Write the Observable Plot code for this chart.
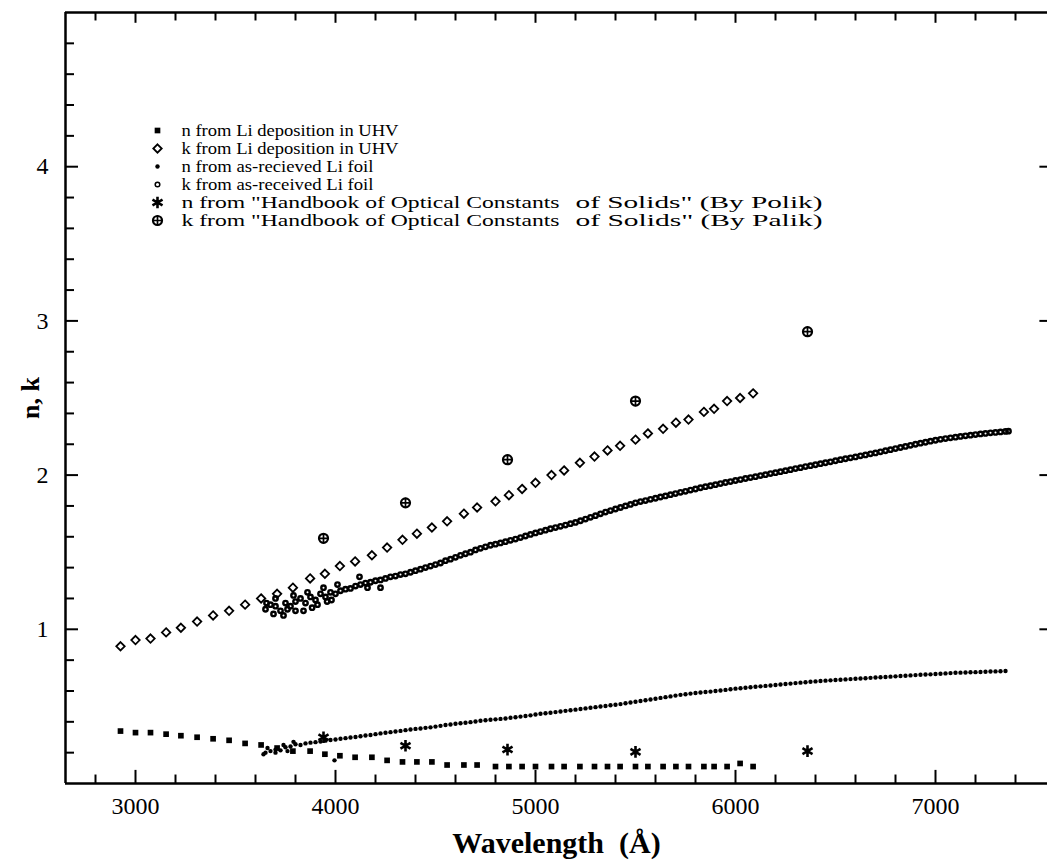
<!DOCTYPE html>
<html>
<head>
<meta charset="utf-8">
<script src="https://cdn.jsdelivr.net/npm/d3@7"></script>
<script src="https://cdn.jsdelivr.net/npm/@observablehq/plot@0.6"></script>
<style>
  html, body { margin: 0; padding: 0; background: #fff; }
  #chart { width: 1047px; height: 860px; }
</style>
</head>
<body>
<div id="chart"></div>
<script>
// ---------- tick values ----------
const xMajorTicks = [3000, 4000, 5000, 6000, 7000];
const xMinorTicks = [2800, 3200, 3400, 3600, 3800, 4200, 4400, 4600, 4800, 5200, 5400, 5600, 5800, 6200, 6400, 6600, 6800, 7200, 7400];
const yMajorTicks = [1, 2, 3, 4];
const yMinorTicks = [0.2, 0.4, 0.6, 0.8, 1.2, 1.4, 1.6, 1.8, 2.2, 2.4, 2.6, 2.8, 3.2, 3.4, 3.6, 3.8, 4.2, 4.4, 4.6, 4.8];

// ---------- legend labels ----------
const legendLabels = [
  "n from Li deposition in UHV",
  "k from Li deposition in UHV",
  "n from as-recieved Li foil",
  "k from as-received Li foil",
  "n from \"Handbook of Optical Constants",
  "k from \"Handbook of Optical Constants"
];
const legendTails = ["of Solids\" (By Polik)", "of Solids\" (By Palik)"];

// ---------- UHV deposition (wavelength Å) ----------
const uhvWavelength = [2925, 3000, 3075, 3153, 3227, 3308, 3388, 3468, 3548, 3628, 3708, 3787, 3873, 3947, 4022, 4098, 4182, 4258, 4335, 4407, 4482, 4558, 4642, 4708, 4800, 4867, 4933, 5000, 5080, 5143, 5222, 5295, 5360, 5423, 5500, 5562, 5638, 5702, 5765, 5842, 5893, 5958, 6023, 6088];
const uhvN = [0.34, 0.33, 0.33, 0.32, 0.31, 0.30, 0.29, 0.28, 0.26, 0.25, 0.23, 0.21, 0.21, 0.19, 0.18, 0.17, 0.17, 0.15, 0.14, 0.14, 0.14, 0.12, 0.12, 0.12, 0.11, 0.11, 0.11, 0.11, 0.11, 0.11, 0.11, 0.11, 0.11, 0.11, 0.11, 0.11, 0.11, 0.11, 0.11, 0.11, 0.11, 0.11, 0.13, 0.11];
const uhvK = [0.89, 0.93, 0.94, 0.98, 1.01, 1.05, 1.09, 1.12, 1.16, 1.20, 1.23, 1.27, 1.33, 1.36, 1.41, 1.44, 1.48, 1.53, 1.58, 1.62, 1.66, 1.70, 1.75, 1.79, 1.83, 1.87, 1.91, 1.95, 2.00, 2.03, 2.08, 2.12, 2.16, 2.19, 2.23, 2.27, 2.30, 2.34, 2.36, 2.41, 2.43, 2.48, 2.50, 2.53];

// ---------- Palik handbook ----------
const palikWavelength = [3940, 4350, 4860, 5500, 6360];
const palikN = [0.30, 0.245, 0.22, 0.205, 0.21];
const palikK = [1.59, 1.82, 2.10, 2.48, 2.93];

// ---------- as-received Li foil: [wavelength, value] ----------
const foilN = [
  [3640,0.19],[3650,0.20],[3660,0.23],[3675,0.21],[3700,0.22],[3700,0.20],[3725,0.215],[3740,0.25],[3750,0.235],[3760,0.21],[3775,0.24],[3790,0.27],[3800,0.255],[3825,0.25],[3850,0.26],[3875,0.265],[3900,0.268],[3925,0.272],[3950,0.278],[3975,0.282],[3995,0.15],
  [4000,0.285],[4025,0.29],[4050,0.294],[4075,0.298],[4100,0.302],[4125,0.306],[4150,0.311],[4175,0.315],[4200,0.32],[4225,0.325],[4250,0.329],[4275,0.333],[4300,0.337],[4325,0.341],[4350,0.346],[4375,0.35],[4400,0.354],[4425,0.357],[4450,0.361],[4475,0.364],
  [4500,0.369],[4525,0.374],[4550,0.379],[4575,0.383],[4600,0.387],[4625,0.391],[4650,0.394],[4675,0.398],[4700,0.402],[4725,0.407],[4750,0.41],[4775,0.413],[4800,0.416],[4825,0.419],[4850,0.422],[4875,0.426],[4900,0.43],[4925,0.434],[4950,0.438],[4975,0.442],
  [5000,0.447],[5025,0.452],[5050,0.456],[5075,0.459],[5100,0.463],[5125,0.467],[5150,0.471],[5175,0.475],[5200,0.479],[5225,0.483],[5250,0.487],[5275,0.491],[5300,0.495],[5325,0.499],[5350,0.503],[5375,0.507],[5400,0.511],[5425,0.515],[5450,0.52],[5475,0.525],
  [5500,0.53],[5525,0.535],[5550,0.54],[5575,0.545],[5600,0.55],[5625,0.555],[5650,0.56],[5675,0.565],[5700,0.57],[5725,0.575],[5750,0.579],[5775,0.583],[5800,0.587],[5825,0.59],[5850,0.593],[5875,0.596],[5900,0.6],[5925,0.603],[5950,0.607],[5975,0.611],
  [6000,0.615],[6025,0.618],[6050,0.621],[6075,0.624],[6100,0.627],[6125,0.63],[6150,0.633],[6175,0.636],[6200,0.639],[6225,0.642],[6250,0.645],[6275,0.648],[6300,0.651],[6325,0.654],[6350,0.657],[6375,0.66],[6400,0.662],[6425,0.665],[6450,0.667],[6475,0.669],
  [6500,0.671],[6525,0.673],[6550,0.675],[6575,0.677],[6600,0.679],[6625,0.681],[6650,0.683],[6675,0.685],[6700,0.687],[6725,0.689],[6750,0.691],[6775,0.693],[6800,0.695],[6825,0.697],[6850,0.699],[6875,0.701],[6900,0.703],[6925,0.705],[6950,0.707],[6975,0.708],
  [7000,0.71],[7025,0.712],[7050,0.714],[7075,0.716],[7100,0.718],[7125,0.719],[7150,0.72],[7175,0.721],[7200,0.722],[7225,0.723],[7250,0.725],[7275,0.726],[7300,0.727],[7325,0.728],[7350,0.73]
];
const foilK = [
  [3650,1.13],[3655,1.17],[3675,1.16],[3690,1.10],[3700,1.15],[3700,1.20],[3725,1.12],[3740,1.09],[3750,1.17],[3760,1.13],[3775,1.15],[3790,1.22],[3800,1.18],[3800,1.12],[3825,1.20],[3840,1.12],[3850,1.17],[3860,1.24],[3875,1.21],[3883,1.14],[3900,1.19],[3910,1.16],[3925,1.23],[3940,1.27],[3950,1.21],[3958,1.18],[3975,1.24],[3980,1.19],
  [4000,1.23],[4010,1.29],[4025,1.25],[4050,1.26],[4075,1.265],[4100,1.28],[4120,1.34],[4125,1.29],[4150,1.30],[4160,1.27],[4175,1.305],[4200,1.315],[4225,1.32],[4225,1.27],[4250,1.33],[4275,1.34],[4300,1.345],[4325,1.355],[4350,1.36],[4375,1.37],[4400,1.38],[4425,1.39],[4450,1.40],[4475,1.41],
  [4500,1.42],[4525,1.43],[4550,1.445],[4575,1.455],[4600,1.467],[4625,1.48],[4650,1.49],[4675,1.50],[4700,1.515],[4725,1.525],[4750,1.535],[4775,1.545],[4800,1.552],[4825,1.56],[4850,1.568],[4875,1.577],[4900,1.585],[4925,1.595],[4950,1.605],[4975,1.615],
  [5000,1.625],[5025,1.634],[5050,1.643],[5075,1.652],[5100,1.66],[5125,1.668],[5150,1.676],[5175,1.685],[5200,1.693],[5225,1.704],[5250,1.715],[5275,1.726],[5300,1.737],[5325,1.749],[5350,1.76],[5375,1.77],[5400,1.78],[5425,1.79],[5450,1.80],[5475,1.81],
  [5500,1.82],[5525,1.828],[5550,1.835],[5575,1.843],[5600,1.85],[5625,1.858],[5650,1.865],[5675,1.873],[5700,1.88],[5725,1.888],[5750,1.895],[5775,1.903],[5800,1.91],[5825,1.918],[5850,1.925],[5875,1.931],[5900,1.938],[5925,1.945],[5950,1.952],[5975,1.958],
  [6000,1.965],[6025,1.971],[6050,1.978],[6075,1.984],[6100,1.99],[6125,1.997],[6150,2.003],[6175,2.01],[6200,2.016],[6225,2.022],[6250,2.029],[6275,2.035],[6300,2.042],[6325,2.048],[6350,2.055],[6375,2.061],[6400,2.067],[6425,2.074],[6450,2.08],[6475,2.086],
  [6500,2.093],[6525,2.10],[6550,2.106],[6575,2.112],[6600,2.118],[6625,2.125],[6650,2.131],[6675,2.138],[6700,2.144],[6725,2.151],[6750,2.158],[6775,2.165],[6800,2.172],[6825,2.179],[6850,2.186],[6875,2.193],[6900,2.20],[6925,2.207],[6950,2.213],[6975,2.22],
  [7000,2.226],[7025,2.232],[7050,2.237],[7075,2.242],[7100,2.246],[7125,2.251],[7150,2.255],[7175,2.259],[7200,2.263],[7225,2.267],[7250,2.27],[7275,2.274],[7300,2.277],[7325,2.28],[7350,2.283],[7365,2.285]
];

// ---------- build tables ----------
const uhv = uhvWavelength.map((w, i) => ({w, n: uhvN[i], k: uhvK[i]}));
const palik = palikWavelength.map((w, i) => ({w, n: palikN[i], k: palikK[i]}));

const X0 = 2650, X1 = 7560;
const serif = "'Liberation Serif', 'Times New Roman', Times, serif";

// marker styles
const S = {
  uhvN:  {symbol: "square",   r: 3.2, fill: "black", stroke: "none"},
  uhvK:  {symbol: "diamond2", r: 3.8, fill: "none",  stroke: "black", strokeWidth: 1.8},
  foilN: {symbol: "circle",   r: 2.2, fill: "black", stroke: "none"},
  foilK: {symbol: "circle",   r: 2.2, fill: "none",  stroke: "black", strokeWidth: 2.4},
  palN:  {symbol: "asterisk", r: 5.5, fill: "none",  stroke: "black", strokeWidth: 2.6},
  palK:  {symbol: "circle",   r: 4.5, fill: "none",  stroke: "black", strokeWidth: 2.2}
};
const palPlus = {symbol: "plus", r: 3.4, stroke: "black", strokeWidth: 1.7};
const legendFoilK = {symbol: "circle", r: 2.3, fill: "none", stroke: "black", strokeWidth: 1.5};

// legend layout (pixels from the frame's top-left corner) and rendered text widths
const LEG_SYM_DX = 92, LEG_TXT_DX = 116, LEG_TAIL_DX = 510, LEG_ROW0 = 118, LEG_STEP = 18, LEG_FONT = 16;
const LEG_TEXT_WIDTHS = [217, 217, 192, 192, 378, 378];
const LEG_TAIL_WIDTHS = [247, 247];
const legendOrder = [S.uhvN, S.uhvK, S.foilN, legendFoilK, S.palN, S.palK];
const legendMarks = [];
legendOrder.forEach((s, i) => {
  legendMarks.push(Plot.dot([0], {frameAnchor: "top-left", dx: LEG_SYM_DX, dy: LEG_ROW0 + i * LEG_STEP, ...s}));
  legendMarks.push(Plot.text([legendLabels[i]], {frameAnchor: "top-left", dx: LEG_TXT_DX, dy: LEG_ROW0 + i * LEG_STEP,
    text: d => d, textAnchor: "start", lineAnchor: "middle", fontSize: LEG_FONT, fill: "black"}));
});
legendMarks.push(Plot.dot([0], {frameAnchor: "top-left", dx: LEG_SYM_DX, dy: LEG_ROW0 + 5 * LEG_STEP, ...palPlus}));
legendTails.forEach((t, i) => {
  legendMarks.push(Plot.text([t], {frameAnchor: "top-left", dx: LEG_TAIL_DX, dy: LEG_ROW0 + (4 + i) * LEG_STEP,
    text: d => d, textAnchor: "start", lineAnchor: "middle", fontSize: LEG_FONT, fill: "black"}));
});

const chart = Plot.plot({
  width: 1047,
  height: 860,
  marginLeft: 65,
  marginRight: 0,
  marginTop: 12,
  marginBottom: 77,
  x: {domain: [X0, X1]},
  y: {domain: [0, 5]},
  style: {fontFamily: serif, fontSize: "20px", color: "black", background: "white", overflow: "visible"},
  marks: [
    // tick labels
    Plot.axisX({ticks: xMajorTicks, tickSize: 0, tickPadding: 13, tickFormat: d => String(d), label: null, fontSize: 24}),
    Plot.axisY({ticks: yMajorTicks, tickSize: 0, tickPadding: 17, tickFormat: d => String(d), label: null, fontSize: 24}),
    // axis titles
    Plot.text(["Wavelength  (\u00C5)"], {frameAnchor: "bottom", dy: 60, text: d => d, fontSize: 30, fontWeight: "bold", fill: "black", textAnchor: "middle", lineAnchor: "middle"}),
    Plot.text(["n, k"], {frameAnchor: "left", dx: -35, rotate: -90, text: d => d, fontSize: 26, fontWeight: "bold", fill: "black", textAnchor: "middle", lineAnchor: "middle"}),
    // frame
    Plot.ruleY([0], {x1: X0, x2: X1, stroke: "black", strokeWidth: 2.5}),
    Plot.ruleY([5], {x1: X0, x2: X1, stroke: "black", strokeWidth: 2.5}),
    Plot.ruleX([X0], {y1: 0, y2: 5, stroke: "black", strokeWidth: 2.5}),
    // inward ticks: bottom & top
    Plot.ruleX(xMajorTicks, {y1: 0, y2: 0.085, stroke: "black", strokeWidth: 2}),
    Plot.ruleX(xMinorTicks, {y1: 0, y2: 0.055, stroke: "black", strokeWidth: 2}),
    Plot.ruleX(xMajorTicks, {y1: 5, y2: 4.93, stroke: "black", strokeWidth: 2}),
    Plot.ruleX(xMinorTicks, {y1: 5, y2: 4.945, stroke: "black", strokeWidth: 2}),
    // inward ticks: left & right
    Plot.ruleY(yMajorTicks, {x1: X0, x2: X0 + 65, stroke: "black", strokeWidth: 2}),
    Plot.ruleY(yMinorTicks, {x1: X0, x2: X0 + 45, stroke: "black", strokeWidth: 2}),
    Plot.ruleY(yMajorTicks, {x1: X1 - 38, x2: X1, stroke: "black", strokeWidth: 2}),
    // as-received foil
    Plot.dot(foilN, {x: d => d[0], y: d => d[1], ...S.foilN}),
    Plot.dot(foilK, {x: d => d[0], y: d => d[1], ...S.foilK}),
    // UHV deposition
    Plot.dot(uhv, {x: "w", y: "n", ...S.uhvN}),
    Plot.dot(uhv, {x: "w", y: "k", ...S.uhvK}),
    // Palik
    Plot.dot(palik, {x: "w", y: "n", ...S.palN}),
    Plot.dot(palik, {x: "w", y: "k", ...S.palK}),
    Plot.dot(palik, {x: "w", y: "k", ...palPlus}),
    ...legendMarks
  ]
});

// fit legend texts to the widths they occupy in the reference
const widthByText = new Map();
legendLabels.forEach((t, i) => widthByText.set(t, LEG_TEXT_WIDTHS[i]));
legendTails.forEach((t, i) => widthByText.set(t, LEG_TAIL_WIDTHS[i]));
chart.querySelectorAll("text").forEach(el => {
  const w = widthByText.get(el.textContent);
  if (w) {
    el.setAttribute("textLength", w);
    el.setAttribute("lengthAdjust", "spacingAndGlyphs");
  }
});
document.getElementById("chart").appendChild(chart);
</script>
</body>
</html>
